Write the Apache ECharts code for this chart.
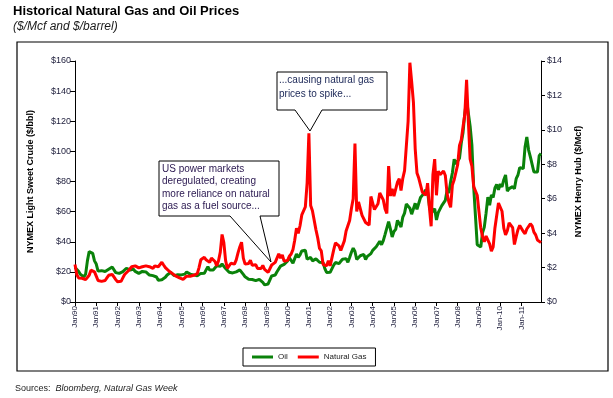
<!DOCTYPE html>
<html>
<head>
<meta charset="utf-8">
<script src="https://cdn.jsdelivr.net/npm/echarts@6/dist/echarts.min.js"></script>
<style>
html, body { margin: 0; padding: 0; background: #fff; }
#main { width: 613px; height: 398px; }
</style>
</head>
<body>
<div id="main"></div>
<script>
// x axis labels, one per January
const tickLabels = ['Jan90','Jan91','Jan92','Jan93','Jan94','Jan95','Jan96','Jan97','Jan98','Jan99','Jan00',
    'Jan01','Jan02','Jan03','Jan04','Jan05','Jan06','Jan07','Jan08','Jan09','Jan-10','Jan-11'];
const monthNames = ['Jan','Feb','Mar','Apr','May','Jun','Jul','Aug','Sep','Oct','Nov','Dec'];

// NYMEX light sweet crude, $/bbl, monthly 1990-2011
const oil = [
    22.9, 22.1, 20.4, 18.4, 18.2, 16.7, 18.5, 27.3, 33.5, 34.0, 32.3, 27.3,
    25.2, 20.5, 19.9, 20.8, 21.2, 20.2, 21.4, 21.7, 21.9, 23.2, 22.5, 19.5,
    18.8, 19.0, 18.9, 20.2, 21.0, 22.4, 21.8, 21.3, 21.9, 21.7, 20.3, 19.4,
    19.0, 20.1, 20.3, 20.3, 20.0, 19.1, 17.9, 18.0, 17.5, 18.2, 16.6, 14.5,
    15.0, 14.8, 14.7, 16.4, 17.9, 19.1, 19.7, 18.4, 17.5, 17.7, 18.1, 17.2,
    18.0, 18.6, 18.5, 19.9, 19.7, 18.5, 17.3, 18.0, 18.2, 17.4, 18.0, 19.0,
    18.9, 19.1, 21.3, 23.5, 21.2, 20.4, 21.3, 21.9, 24.0, 24.9, 23.7, 25.2,
    25.1, 22.2, 21.0, 19.7, 20.8, 19.3, 19.7, 20.0, 19.8, 21.3, 20.2, 18.3,
    16.7, 16.1, 15.1, 15.4, 14.9, 13.7, 14.2, 13.5, 15.0, 14.5, 13.0, 11.4,
    12.5, 12.0, 14.7, 17.3, 17.7, 17.9, 20.1, 21.3, 23.8, 22.7, 25.0, 26.1,
    27.3, 29.4, 29.8, 25.7, 28.8, 31.8, 29.7, 31.3, 33.9, 33.1, 34.4, 28.4,
    29.6, 29.6, 27.3, 27.5, 28.6, 27.6, 26.4, 27.4, 26.2, 22.2, 19.6, 19.4,
    19.7, 20.7, 24.5, 26.2, 27.0, 25.5, 27.0, 28.4, 29.7, 28.8, 26.4, 29.5,
    33.0, 35.8, 33.5, 28.2, 28.1, 30.7, 30.8, 31.6, 28.3, 30.3, 31.1, 32.1,
    34.3, 34.7, 36.7, 36.8, 40.3, 38.0, 40.8, 44.9, 45.9, 53.3, 48.5, 43.2,
    46.8, 48.2, 54.2, 53.0, 49.8, 56.4, 59.0, 65.0, 65.6, 62.3, 58.3, 59.4,
    65.5, 61.6, 62.7, 69.4, 70.8, 71.0, 74.4, 73.0, 63.8, 58.9, 59.1, 62.0,
    54.5, 59.3, 60.4, 64.0, 63.5, 67.5, 74.1, 72.4, 79.9, 85.8, 94.8, 91.7,
    93.0, 95.4, 105.5, 112.6, 125.4, 133.9, 133.4, 116.7, 104.1, 76.6, 57.3, 38.0,
    39.0, 36.5, 46.0, 49.7, 59.0, 69.6, 64.2, 71.1, 69.4, 75.7, 78.0, 74.5,
    78.3, 76.4, 81.2, 84.3, 73.7, 75.3, 76.3, 76.6, 75.2, 81.9, 84.3, 89.2,
    89.2, 88.6, 102.9, 109.5, 100.9, 96.3, 97.3, 86.3, 85.5, 86.3, 97.2, 98.6
];

// NYMEX Henry Hub natural gas, $/Mcf, monthly 1990-2011
const gas = [
    2.18, 1.60, 1.40, 1.35, 1.38, 1.33, 1.30, 1.35, 1.55, 1.85, 1.90, 1.75,
    1.50, 1.25, 1.22, 1.20, 1.22, 1.25, 1.40, 1.55, 1.62, 1.60, 1.50, 1.30,
    1.18, 1.12, 1.20, 1.40, 1.60, 1.70, 1.80, 1.90, 2.05, 2.12, 2.10, 2.00,
    1.98, 1.95, 2.05, 2.15, 2.10, 2.05, 2.05, 2.00, 1.95, 2.10, 2.20, 2.05,
    2.10, 2.31, 2.15, 2.00, 1.90, 1.80, 1.75, 1.65, 1.55, 1.50, 1.45, 1.40,
    1.35, 1.31, 1.40, 1.50, 1.55, 1.50, 1.45, 1.55, 1.60, 1.65, 2.00, 2.45,
    2.55, 2.60, 2.45, 2.35, 2.30, 2.55, 2.66, 2.35, 2.10, 2.40, 2.90, 3.92,
    3.45, 2.40, 1.95, 2.05, 2.25, 2.20, 2.20, 2.45, 2.85, 3.20, 3.47, 2.55,
    2.20, 2.25, 2.24, 2.43, 2.14, 2.17, 2.17, 1.95, 2.02, 1.95, 2.12, 1.90,
    1.85, 1.72, 1.79, 2.15, 2.26, 2.30, 2.31, 2.80, 2.55, 2.73, 2.37, 2.36,
    2.42, 2.66, 2.79, 3.04, 3.59, 4.29, 3.99, 4.43, 5.06, 5.02, 5.52, 6.90,
    9.80, 5.60, 5.30, 5.19, 4.19, 3.72, 3.11, 2.97, 2.19, 2.30, 2.10, 2.40,
    2.10, 2.05, 3.03, 3.43, 3.50, 3.26, 2.99, 3.09, 3.55, 4.13, 4.04, 4.74,
    5.43, 6.00, 9.20, 5.26, 5.81, 5.82, 5.03, 4.99, 4.62, 4.63, 4.47, 6.13,
    6.14, 5.37, 5.39, 5.71, 6.33, 6.27, 5.93, 5.41, 5.15, 7.90, 6.17, 6.58,
    6.15, 6.14, 6.96, 7.16, 6.47, 7.18, 7.63, 7.60, 10.50, 13.90, 12.80, 11.60,
    8.90, 7.50, 7.20, 7.30, 6.40, 6.30, 6.20, 6.90, 5.50, 4.40, 7.40, 8.30,
    6.20, 7.60, 7.40, 7.50, 7.60, 7.35, 6.30, 5.80, 5.50, 6.80, 7.10, 7.20,
    7.99, 9.10, 9.41, 10.18, 10.90, 12.90, 10.50, 8.30, 7.90, 6.70, 6.60, 6.20,
    5.24, 4.30, 3.80, 3.50, 3.83, 3.80, 3.38, 2.95, 3.20, 4.30, 4.20, 5.75,
    5.83, 5.27, 4.29, 3.90, 4.14, 4.60, 4.63, 4.32, 3.34, 3.80, 4.20, 4.45,
    4.49, 4.09, 3.97, 4.24, 4.31, 4.54, 4.42, 4.06, 3.90, 3.60, 3.55, 3.45
];

// one category per month, Januaries carry the tick label
const months = [];
tickLabels.forEach(lbl => {
    const yy = lbl.slice(-2);
    monthNames.forEach((m, i) => months.push(i === 0 ? lbl : m + yy));
});

const axisFont = 'Liberation Sans, Arial, sans-serif';
const labelColor = '#1c1c3a';

const chart = echarts.init(document.getElementById('main'));
chart.setOption({
    animation: false,
    title: {
        text: 'Historical Natural Gas and Oil Prices',
        subtext: '($/Mcf and $/barrel)',
        left: 13,
        top: 5,
        itemGap: 3,
        padding: 0,
        textStyle: { fontFamily: axisFont, fontSize: 13, fontWeight: 'bold', color: '#000' },
        subtextStyle: { fontFamily: axisFont, fontSize: 12, fontStyle: 'italic', color: '#1a1a1a' }
    },
    grid: { left: 75, right: 72, top: 61, bottom: 96 },
    legend: {
        data: ['Oil', 'Natural Gas'],
        left: 243,
        top: 348,
        padding: [5, 9, 5, 9],
        borderColor: '#000',
        borderWidth: 1,
        itemWidth: 21,
        itemHeight: 3,
        itemGap: 10,
        icon: 'rect',
        textStyle: { fontFamily: axisFont, fontSize: 8, color: '#222' }
    },
    xAxis: {
        type: 'category',
        data: months,
        boundaryGap: false,
        axisLine: { lineStyle: { color: '#000', width: 1 } },
        axisTick: { interval: 11, length: 4, lineStyle: { color: '#000' } },
        axisLabel: { interval: 11, rotate: 90, margin: 4, fontFamily: axisFont, fontSize: 8, color: labelColor },
        splitLine: { show: false }
    },
    yAxis: [
        {
            type: 'value',
            min: 0, max: 160, interval: 20,
            name: 'NYMEX Light Sweet Crude ($/bbl)',
            nameLocation: 'middle',
            nameRotate: 90,
            nameGap: 40,
            nameTextStyle: { fontFamily: axisFont, fontSize: 9, fontWeight: 'bold', color: '#000' },
            axisLine: { show: true, lineStyle: { color: '#000' } },
            axisTick: { show: true, length: 5, lineStyle: { color: '#000' } },
            axisLabel: { formatter: '${value}', margin: 4, fontFamily: axisFont, fontSize: 9, color: labelColor },
            splitLine: { show: false }
        },
        {
            type: 'value',
            position: 'right',
            min: 0, max: 14, interval: 2,
            name: 'NYMEX Henry Hub ($/Mcf)',
            nameLocation: 'middle',
            nameRotate: 90,
            nameGap: 33,
            nameTextStyle: { fontFamily: axisFont, fontSize: 9, fontWeight: 'bold', color: '#000' },
            axisLine: { show: true, lineStyle: { color: '#000' } },
            axisTick: { show: true, length: 4, lineStyle: { color: '#000' } },
            axisLabel: { formatter: '${value}', margin: 6, fontFamily: axisFont, fontSize: 9, color: labelColor },
            splitLine: { show: false }
        }
    ],
    series: [
        {
            name: 'Oil',
            type: 'line',
            data: oil,
            yAxisIndex: 0,
            symbol: 'none',
            lineStyle: { color: '#0a820a', width: 3 },
            itemStyle: { color: '#0a820a' }
        },
        {
            name: 'Natural Gas',
            type: 'line',
            data: gas,
            yAxisIndex: 1,
            symbol: 'none',
            lineStyle: { color: '#ff0000', width: 3 },
            itemStyle: { color: '#ff0000' }
        }
    ],
    graphic: [
        // outer frame
        {
            type: 'rect', z: -1,
            shape: { x: 17, y: 42, width: 591, height: 329 },
            style: { fill: 'none', stroke: '#000', lineWidth: 1.2 }
        },
        // callout: deregulation
        {
            type: 'polygon', z: 100,
            shape: { points: [[159, 161], [279, 161], [279, 216], [260, 216], [271, 262], [230, 216], [159, 216]] },
            style: { fill: '#fff', stroke: '#000', lineWidth: 1 }
        },
        {
            type: 'text', z: 101, x: 162, y: 163,
            style: {
                text: 'US power markets\nderegulated, creating\nmore reliance on natural\ngas as a fuel source...',
                fontFamily: axisFont, fontSize: 10, lineHeight: 12.3, fill: '#2a1850'
            }
        },
        // callout: spike
        {
            type: 'polygon', z: 100,
            shape: { points: [[277, 72], [387, 72], [387, 110], [322, 110], [310, 131], [295, 110], [277, 110]] },
            style: { fill: '#fff', stroke: '#000', lineWidth: 1 }
        },
        {
            type: 'text', z: 101, x: 279, y: 73,
            style: {
                text: '...causing natural gas\nprices to spike...',
                fontFamily: axisFont, fontSize: 10, lineHeight: 14, fill: '#1a2656'
            }
        },
        // sources
        {
            type: 'text', x: 15, y: 384,
            style: {
                text: '{a|Sources:  }{b|Bloomberg, Natural Gas Week}',
                rich: {
                    a: { fontFamily: axisFont, fontSize: 9, fill: '#222' },
                    b: { fontFamily: axisFont, fontSize: 9, fontStyle: 'italic', fill: '#222' }
                }
            }
        }
    ]
});
</script>
</body>
</html>
